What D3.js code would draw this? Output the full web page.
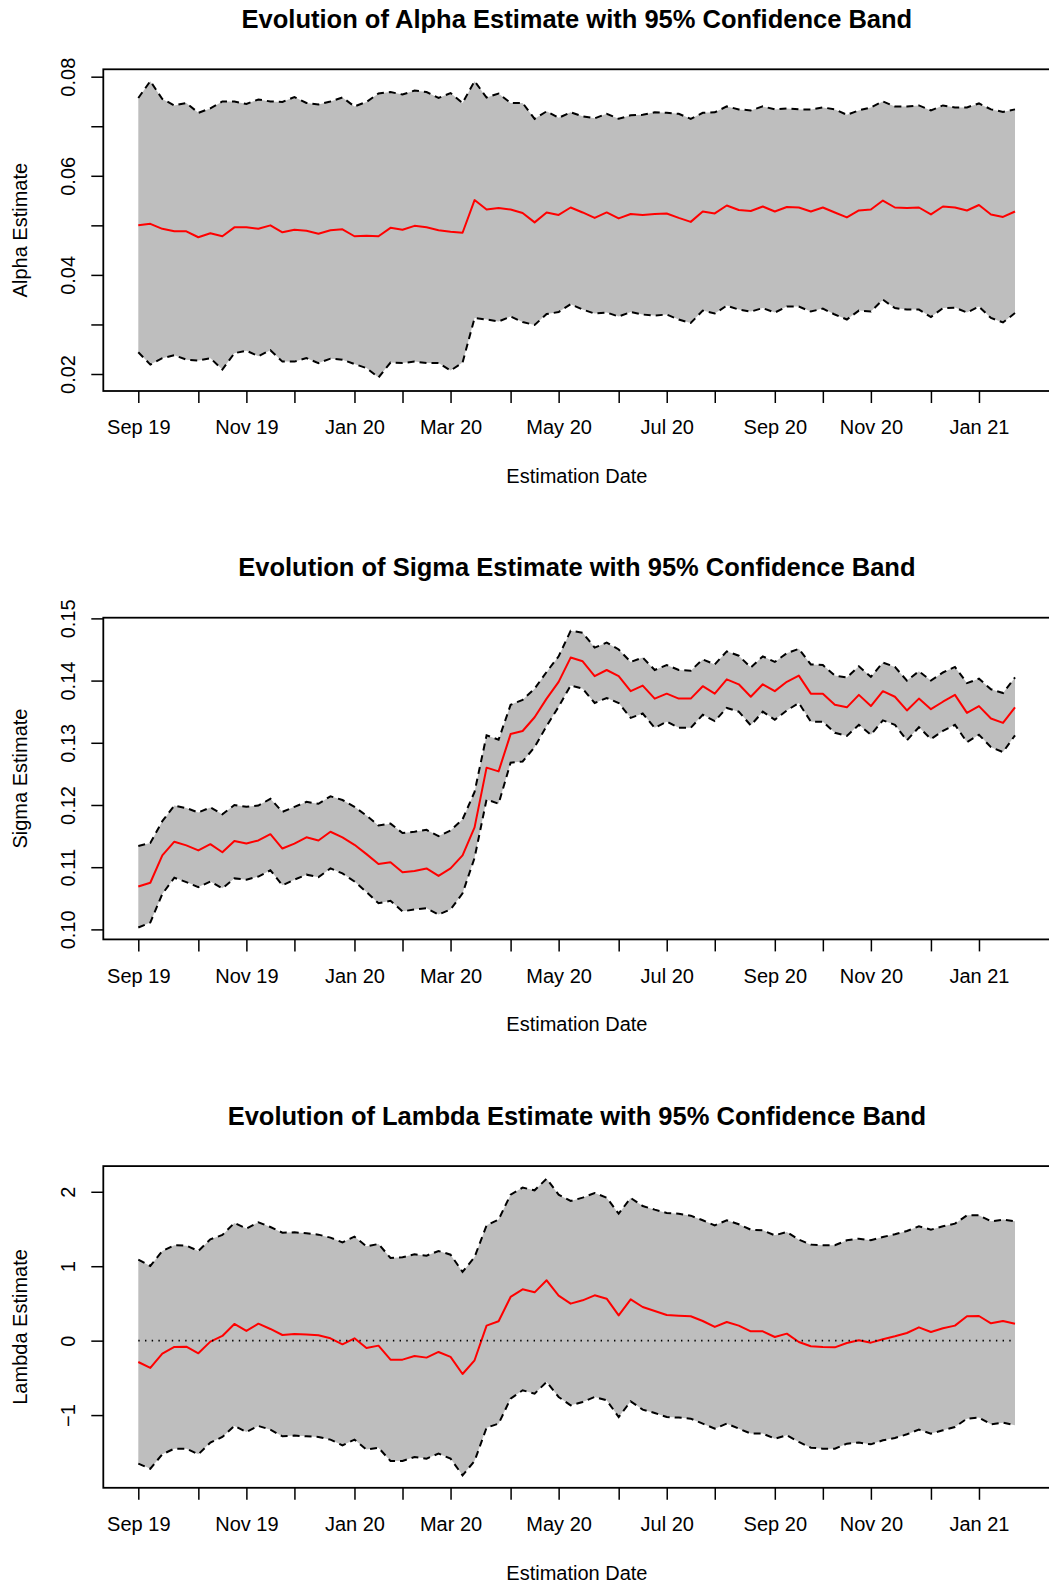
<!DOCTYPE html>
<html>
<head>
<meta charset="utf-8">
<script src="https://cdn.jsdelivr.net/npm/d3@7"></script>
<style>
  html, body { margin: 0; padding: 0; background: #ffffff; }
  svg { display: block; }
  text { font-family: "Liberation Sans", Arial, Helvetica, sans-serif; fill: #000; }
</style>
</head>
<body>
<script>
// Weekly estimation dates: Sundays from 1 Sep 2019 to 24 Jan 2021
const startDate = new Date(Date.UTC(2019, 8, 1));
const endDate = new Date(Date.UTC(2021, 0, 25));
const dates = d3.utcWeek.range(startDate, endDate);

// Alpha: point estimate and 95% band
const alphaEst = [
  0.0500, 0.0503, 0.0493, 0.0488, 0.0488, 0.0476, 0.0484, 0.0478, 0.0496, 0.0496,
  0.0493, 0.0500, 0.0486, 0.0491, 0.0489, 0.0483, 0.0490, 0.0492, 0.0478, 0.0479,
  0.0478, 0.0495, 0.0491, 0.0499, 0.0496, 0.0490, 0.0487, 0.0485, 0.0551, 0.0532,
  0.0535, 0.0532, 0.0525, 0.0506, 0.0526, 0.0521, 0.0536, 0.0526, 0.0515, 0.0526,
  0.0514, 0.0523, 0.0521, 0.0523, 0.0524, 0.0515, 0.0507, 0.0528, 0.0524, 0.0540,
  0.0531, 0.0529, 0.0538, 0.0528, 0.0537, 0.0536, 0.0528, 0.0536, 0.0526, 0.0516,
  0.0530, 0.0532, 0.0550, 0.0536, 0.0535, 0.0536, 0.0522, 0.0538, 0.0536, 0.0530,
  0.0541, 0.0522, 0.0517, 0.0528
];
const alphaUpper = [
  0.0757, 0.0791, 0.0755, 0.0742, 0.0747, 0.0727, 0.0736, 0.0750, 0.0750, 0.0745,
  0.0754, 0.0750, 0.0749, 0.0759, 0.0747, 0.0744, 0.0750, 0.0758, 0.0740, 0.0749,
  0.0766, 0.0769, 0.0764, 0.0772, 0.0769, 0.0757, 0.0767, 0.0747, 0.0791, 0.0758,
  0.0766, 0.0747, 0.0747, 0.0715, 0.0730, 0.0717, 0.0728, 0.0720, 0.0716, 0.0725,
  0.0715, 0.0722, 0.0723, 0.0728, 0.0727, 0.0725, 0.0715, 0.0727, 0.0728, 0.0740,
  0.0734, 0.0732, 0.0740, 0.0734, 0.0736, 0.0734, 0.0734, 0.0738, 0.0734, 0.0723,
  0.0732, 0.0738, 0.0750, 0.0740, 0.0740, 0.0742, 0.0732, 0.0742, 0.0738, 0.0738,
  0.0746, 0.0734, 0.0729, 0.0734
];
const alphaLower = [
  0.0244, 0.0219, 0.0232, 0.0238, 0.0229, 0.0227, 0.0232, 0.0209, 0.0242, 0.0247,
  0.0236, 0.0248, 0.0225, 0.0225, 0.0232, 0.0222, 0.0231, 0.0229, 0.0220, 0.0212,
  0.0193, 0.0223, 0.0222, 0.0225, 0.0222, 0.0222, 0.0207, 0.0223, 0.0313, 0.0310,
  0.0306, 0.0316, 0.0305, 0.0299, 0.0321, 0.0325, 0.0341, 0.0330, 0.0322, 0.0324,
  0.0316, 0.0325, 0.0320, 0.0318, 0.0320, 0.0310, 0.0303, 0.0328, 0.0322, 0.0338,
  0.0330, 0.0326, 0.0333, 0.0324, 0.0336, 0.0336, 0.0326, 0.0332, 0.0320, 0.0310,
  0.0328, 0.0326, 0.0350, 0.0333, 0.0330, 0.0330, 0.0315, 0.0333, 0.0334, 0.0324,
  0.0336, 0.0313, 0.0304, 0.0323
];

// Sigma: point estimate and 95% band
const sigmaEst = [
  0.1069, 0.1075, 0.1119, 0.1141, 0.1135, 0.1127, 0.1137, 0.1124, 0.1142, 0.1138,
  0.1143, 0.1153, 0.1130, 0.1138, 0.1148, 0.1143, 0.1157, 0.1148, 0.1136, 0.1121,
  0.1105, 0.1108, 0.1092, 0.1094, 0.1098, 0.1086, 0.1098, 0.1119, 0.1164, 0.1260,
  0.1254, 0.1314, 0.1319, 0.1341, 0.1371, 0.1398, 0.1437, 0.1431, 0.1407, 0.1417,
  0.1407, 0.1383, 0.1392, 0.1371, 0.1379, 0.1371, 0.1371, 0.1391, 0.1379, 0.1402,
  0.1394, 0.1374, 0.1394, 0.1383, 0.1398, 0.1408, 0.1379, 0.1379, 0.1361, 0.1357,
  0.1377, 0.1359, 0.1383, 0.1374, 0.1352, 0.1371, 0.1354, 0.1366, 0.1377, 0.1348,
  0.1359, 0.1339, 0.1332, 0.1357
];
const sigmaUpper = [
  0.1134, 0.1139, 0.1174, 0.1199, 0.1195, 0.1188, 0.1196, 0.1185, 0.1200, 0.1197,
  0.1199, 0.1210, 0.1189, 0.1197, 0.1205, 0.1202, 0.1214, 0.1208, 0.1197, 0.1183,
  0.1167, 0.1170, 0.1155, 0.1157, 0.1160, 0.1150, 0.1159, 0.1177, 0.1221, 0.1312,
  0.1305, 0.1361, 0.1369, 0.1387, 0.1414, 0.1439, 0.1480, 0.1477, 0.1453, 0.1461,
  0.1450, 0.1430, 0.1437, 0.1417, 0.1425, 0.1417, 0.1416, 0.1434, 0.1426, 0.1447,
  0.1440, 0.1421, 0.1439, 0.1430, 0.1444, 0.1451, 0.1426, 0.1425, 0.1408, 0.1405,
  0.1423, 0.1406, 0.1429, 0.1422, 0.1400, 0.1415, 0.1400, 0.1413, 0.1422, 0.1396,
  0.1403, 0.1386, 0.1380, 0.1405
];
const sigmaLower = [
  0.1003, 0.1011, 0.1057, 0.1083, 0.1076, 0.1068, 0.1077, 0.1066, 0.1082, 0.1080,
  0.1085, 0.1095, 0.1071, 0.1080, 0.1088, 0.1084, 0.1098, 0.1090, 0.1077, 0.1060,
  0.1042, 0.1046, 0.1029, 0.1032, 0.1034, 0.1024, 0.1032, 0.1058, 0.1115, 0.1209,
  0.1202, 0.1268, 0.1270, 0.1293, 0.1327, 0.1358, 0.1392, 0.1387, 0.1364, 0.1372,
  0.1364, 0.1340, 0.1347, 0.1324, 0.1334, 0.1324, 0.1324, 0.1345, 0.1335, 0.1356,
  0.1350, 0.1328, 0.1350, 0.1337, 0.1352, 0.1364, 0.1334, 0.1334, 0.1316, 0.1311,
  0.1329, 0.1313, 0.1336, 0.1329, 0.1304, 0.1325, 0.1306, 0.1319, 0.1329, 0.1301,
  0.1313, 0.1293, 0.1285, 0.1312
];

// Lambda: point estimate and 95% band
const lambdaEst = [
  -0.287, -0.367, -0.175, -0.085, -0.081, -0.170, -0.013, 0.063, 0.224, 0.130,
  0.228, 0.157, 0.076, 0.090, 0.081, 0.072, 0.031, -0.049, 0.031, -0.099,
  -0.067, -0.255, -0.255, -0.206, -0.228, -0.152, -0.219, -0.448, -0.264, 0.202,
  0.260, 0.587, 0.690, 0.649, 0.811, 0.605, 0.497, 0.542, 0.609, 0.564,
  0.340, 0.555, 0.452, 0.399, 0.345, 0.336, 0.327, 0.264, 0.184, 0.251,
  0.202, 0.125, 0.125, 0.049, 0.094, -0.018, -0.076, -0.085, -0.090, -0.031,
  0.004, -0.027, 0.018, 0.058, 0.103, 0.179, 0.116, 0.166, 0.202, 0.327,
  0.331, 0.233, 0.264, 0.228
];
const lambdaUpper = [
  1.088, 1.003, 1.205, 1.281, 1.276, 1.205, 1.361, 1.420, 1.581, 1.505,
  1.590, 1.527, 1.451, 1.455, 1.442, 1.424, 1.384, 1.321, 1.397, 1.267,
  1.299, 1.111, 1.120, 1.160, 1.142, 1.205, 1.155, 0.923, 1.124, 1.549,
  1.626, 1.961, 2.056, 2.020, 2.176, 1.961, 1.876, 1.921, 1.984, 1.921,
  1.706, 1.917, 1.809, 1.760, 1.715, 1.706, 1.679, 1.617, 1.549, 1.617,
  1.563, 1.491, 1.482, 1.415, 1.460, 1.357, 1.290, 1.281, 1.281, 1.348,
  1.370, 1.348, 1.393, 1.429, 1.473, 1.536, 1.491, 1.536, 1.572, 1.684,
  1.684, 1.603, 1.626, 1.603
];
const lambdaLower = [
  -1.652, -1.720, -1.527, -1.451, -1.451, -1.527, -1.370, -1.294, -1.146, -1.227,
  -1.146, -1.196, -1.285, -1.276, -1.285, -1.294, -1.330, -1.406, -1.330, -1.464,
  -1.438, -1.617, -1.617, -1.563, -1.585, -1.518, -1.585, -1.809, -1.617, -1.169,
  -1.115, -0.779, -0.667, -0.712, -0.555, -0.757, -0.869, -0.824, -0.757, -0.802,
  -1.026, -0.815, -0.927, -0.972, -1.026, -1.034, -1.048, -1.115, -1.182, -1.115,
  -1.182, -1.249, -1.249, -1.317, -1.272, -1.361, -1.438, -1.451, -1.451, -1.384,
  -1.370, -1.393, -1.339, -1.308, -1.258, -1.196, -1.249, -1.205, -1.160, -1.048,
  -1.034, -1.124, -1.102, -1.137
];

// Axis ticks and labels for each panel
const alphaTicks = [0.02, 0.03, 0.04, 0.05, 0.06, 0.07, 0.08];
const alphaTickLabels = [0.02, 0.04, 0.06, 0.08];
const sigmaTicks = [0.10, 0.11, 0.12, 0.13, 0.14, 0.15];
const sigmaTickLabels = [0.10, 0.11, 0.12, 0.13, 0.14, 0.15];
const lambdaTicks = [-1, 0, 1, 2];
const lambdaTickLabels = [-1, 0, 1, 2];

const panelTitles = [
  "Evolution of Alpha Estimate with 95% Confidence Band",
  "Evolution of Sigma Estimate with 95% Confidence Band",
  "Evolution of Lambda Estimate with 95% Confidence Band"
];
const yTitles = ["Alpha Estimate", "Sigma Estimate", "Lambda Estimate"];
const xTitle = "Estimation Date";

const panels = [
  { est: alphaEst, up: alphaUpper, lo: alphaLower, ticks: alphaTicks, labels: alphaTickLabels,
    domain: [0.01657, 0.08149], fmt: d3.format(".2f"), zeroLine: false },
  { est: sigmaEst, up: sigmaUpper, lo: sigmaLower, ticks: sigmaTicks, labels: sigmaTickLabels,
    domain: [0.09839, 0.15011], fmt: d3.format(".2f"), zeroLine: false },
  { est: lambdaEst, up: lambdaUpper, lo: lambdaLower, ticks: lambdaTicks, labels: lambdaTickLabels,
    domain: [-1.977, 2.345], fmt: d3.format("d"), zeroLine: true }
];

// ---- layout ----
const W = 1049, H = 1584;
const boxLeft = 103.3, boxRight = 1050.5;
const firstX = 138.3, lastX = 1015;
const panelTop0 = 69.3, panelStep = 548.4, boxH = 321.7;

const svg = d3.select("body").append("svg")
  .attr("width", W).attr("height", H)
  .attr("viewBox", `0 0 ${W} ${H}`);

svg.append("rect").attr("width", W).attr("height", H).attr("fill", "#ffffff");

const x = d3.scaleUtc()
  .domain([dates[0], dates[dates.length - 1]])
  .range([firstX, lastX]);

// one tick at the first weekly date of every month
const monthTicks = dates.filter((d, i) =>
  i === 0 || d.getUTCMonth() !== dates[i - 1].getUTCMonth());
const labelledMonths = new Set(monthTicks.filter((d, i) => i % 2 === 0).map(d => +d));
const monthFmt = d3.utcFormat("%b %y");

panels.forEach((p, k) => {
  const top = panelTop0 + k * panelStep;
  const bottom = top + boxH;
  const g = svg.append("g");

  const y = d3.scaleLinear().domain(p.domain).range([bottom, top]);
  const rows = dates.map((d, i) => ({ d, est: p.est[i], up: p.up[i], lo: p.lo[i] }));

  // confidence band
  g.append("path")
    .datum(rows)
    .attr("fill", "#BEBEBE")
    .attr("stroke", "none")
    .attr("d", d3.area().x(r => x(r.d)).y0(r => y(r.lo)).y1(r => y(r.up)));

  // point estimate
  g.append("path")
    .datum(rows)
    .attr("fill", "none")
    .attr("stroke", "#FF0000")
    .attr("stroke-width", 2)
    .attr("stroke-linejoin", "round")
    .attr("d", d3.line().x(r => x(r.d)).y(r => y(r.est)));

  // band limits
  ["up", "lo"].forEach(key => {
    g.append("path")
      .datum(rows)
      .attr("fill", "none")
      .attr("stroke", "#000")
      .attr("stroke-width", 2)
      .attr("stroke-dasharray", "7,5")
      .attr("d", d3.line().x(r => x(r.d)).y(r => y(r[key])));
  });

  // reference line at zero
  if (p.zeroLine) {
    g.append("path")
      .datum([dates[0], dates[dates.length - 1]])
      .attr("fill", "none")
      .attr("stroke", "#000")
      .attr("stroke-width", 1.6)
      .attr("stroke-dasharray", "1.4,5.3")
      .attr("d", d3.line().x(d => x(d)).y(() => y(0)));
  }

  // plot box
  g.append("rect")
    .attr("x", boxLeft).attr("y", top)
    .attr("width", boxRight - boxLeft).attr("height", boxH)
    .attr("fill", "none").attr("stroke", "#000").attr("stroke-width", 1.8);

  // x axis
  const xAxis = d3.axisBottom(x)
    .tickValues(monthTicks)
    .tickSize(12)
    .tickSizeOuter(0)
    .tickPadding(17)
    .tickFormat(d => labelledMonths.has(+d) ? monthFmt(d) : "");
  const gx = g.append("g").attr("transform", `translate(0,${bottom})`).call(xAxis);
  gx.select(".domain").remove();
  gx.selectAll(".tick line").attr("stroke", "#000").attr("stroke-width", 1.5);
  gx.selectAll(".tick text")
    .attr("font-size", 20)
    .attr("font-family", "'Liberation Sans', Arial, sans-serif")
    .attr("fill", "#000");

  // y axis with labels parallel to the axis
  const labelSet = new Set(p.labels.map(v => v.toFixed(4)));
  const yAxis = d3.axisLeft(y)
    .tickValues(p.ticks)
    .tickSize(12)
    .tickSizeOuter(0)
    .tickFormat(v => labelSet.has(v.toFixed(4)) ? p.fmt(v) : "");
  const gy = g.append("g").attr("transform", `translate(${boxLeft},0)`).call(yAxis);
  gy.select(".domain").remove();
  gy.selectAll(".tick line").attr("stroke", "#000").attr("stroke-width", 1.5);
  gy.selectAll(".tick text")
    .attr("x", null).attr("dy", null)
    .attr("text-anchor", "middle")
    .attr("transform", "translate(-28.3,0) rotate(-90)")
    .attr("font-size", 20)
    .attr("font-family", "'Liberation Sans', Arial, sans-serif")
    .attr("fill", "#000");

  // titles
  g.append("text")
    .attr("x", (boxLeft + boxRight) / 2)
    .attr("y", top - 41.5)
    .attr("text-anchor", "middle")
    .attr("font-size", 25.5)
    .attr("font-weight", "bold")
    .text(panelTitles[k]);

  g.append("text")
    .attr("x", (boxLeft + boxRight) / 2)
    .attr("y", bottom + 92)
    .attr("text-anchor", "middle")
    .attr("font-size", 20)
    .text(xTitle);

  g.append("text")
    .attr("transform", `translate(26.5,${(top + bottom) / 2}) rotate(-90)`)
    .attr("text-anchor", "middle")
    .attr("font-size", 20)
    .text(yTitles[k]);
});
</script>
</body>
</html>
